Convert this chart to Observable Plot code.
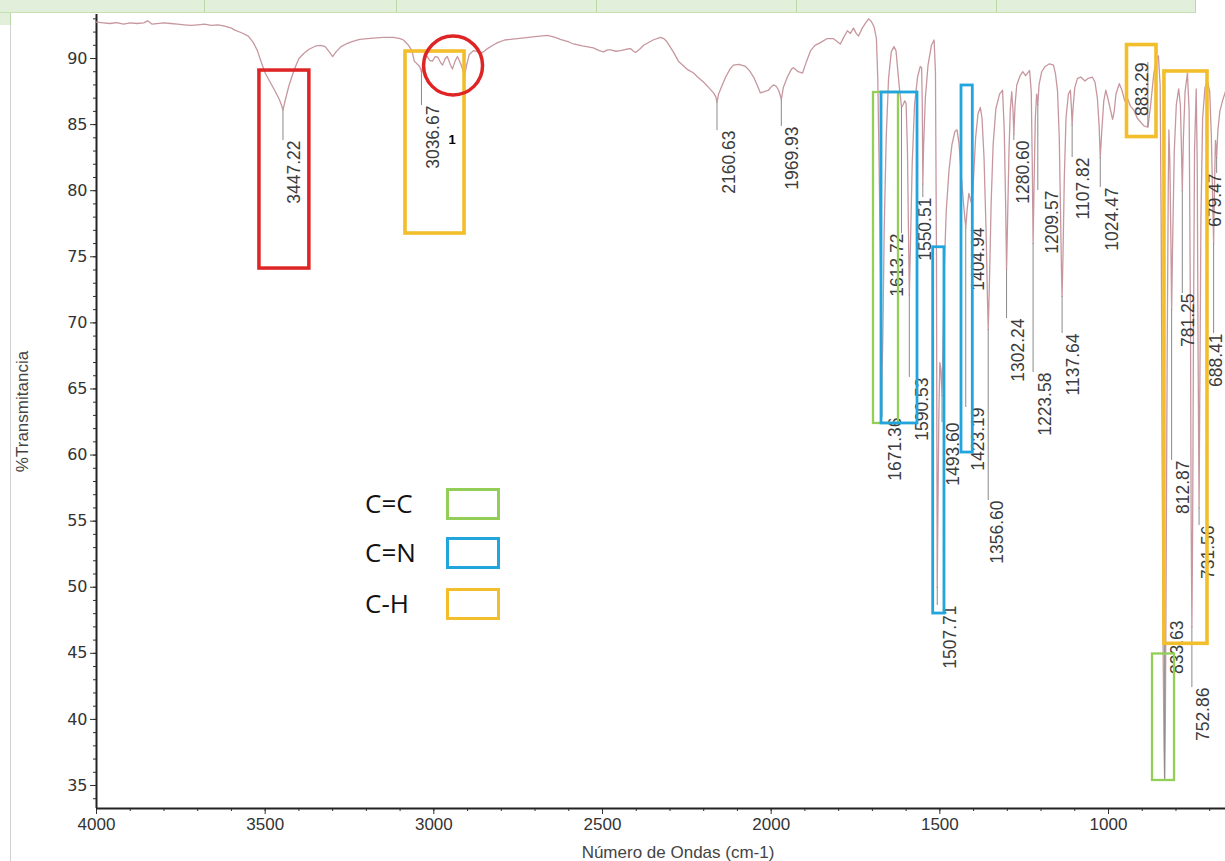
<!DOCTYPE html>
<html><head><meta charset="utf-8">
<script src="https://cdn.jsdelivr.net/npm/d3@7"></script>
<script src="https://cdn.jsdelivr.net/npm/@observablehq/plot@0.6"></script>
<style>
body{margin:0;background:#fff;}
#wrap{position:relative;width:1225px;height:861px;overflow:hidden;background:#fff;}
#wrap svg{position:absolute;left:0;top:0;}
.cell{position:absolute;top:0;height:12px;background:#e2efda;border-right:1px solid #b9d8a6;border-bottom:1px solid #c6e0b4;box-sizing:content-box;}
.leg{position:absolute;font-family:"Open Sans";font-size:26px;color:#111;line-height:1;}
.legbox{position:absolute;width:48px;height:26px;border:3px solid;}
</style></head><body><div id="wrap"></div>
<script>
// Spectrum: [wavenumber cm-1, %T]
const spectrum = [
[4000,92.75],[3980,92.7],[3960,92.65],[3940,92.72],[3920,92.6],[3900,92.7],[3880,92.65],[3860,92.7],[3848,92.85],[3835,92.6],
[3800,92.7],[3780,92.65],[3760,92.6],[3740,92.55],[3720,92.5],[3700,92.55],[3680,92.6],[3660,92.5],[3640,92.55],[3620,92.45],
[3600,92.3],[3590,92.15],[3570,91.95],[3550,91.7],[3535,91.2],[3523,90.6],[3510,89.6],[3500,88.9],[3485,88.2],[3470,87.5],
[3458,86.9],[3452,86.5],[3447.22,86.1],[3440,86.9],[3430,87.9],[3420,88.7],[3410,89.4],[3400,90.0],[3385,90.4],[3370,90.7],
[3350,90.95],[3335,91.0],[3322,90.9],[3310,90.5],[3300,90.15],[3290,90.5],[3275,90.9],[3260,91.1],[3240,91.3],[3220,91.45],
[3180,91.55],[3150,91.6],[3120,91.6],[3100,91.5],[3090,91.4],[3075,91.0],[3065,90.6],[3058,89.8],[3050,89.6],[3042,89.4],
[3036.67,89.0],[3030,89.7],[3022,90.25],[3012,89.85],[3004,89.8],[2996,90.15],[2988,90.1],[2980,89.7],[2974,89.5],[2966,90.0],
[2960,90.15],[2952,89.6],[2945,89.2],[2937,89.8],[2930,90.15],[2922,89.7],[2916,89.3],[2909,88.7],[2902,89.6],[2895,90.3],
[2882,90.6],[2868,90.5],[2856,90.45],[2848,90.6],[2841,90.75],[2825,91.0],[2811,91.2],[2790,91.4],[2752,91.5],[2700,91.65],
[2663,91.75],[2640,91.6],[2625,91.45],[2600,91.25],[2586,91.1],[2560,90.95],[2527,90.8],[2510,90.6],[2497,90.5],[2485,90.65],
[2476,90.65],[2460,90.55],[2447,90.6],[2430,90.7],[2417,90.75],[2408,90.55],[2402,90.45],[2390,90.7],[2378,91.0],[2350,91.4],
[2328,91.6],[2318,91.5],[2310,91.3],[2290,90.5],[2275,89.8],[2250,89.2],[2230,88.9],[2218,88.6],[2200,88.2],[2185,87.8],
[2171,87.4],[2164,87.1],[2160.63,86.7],[2156,87.3],[2148,87.8],[2135,88.6],[2122,89.2],[2112,89.5],[2095,89.55],[2076,89.4],
[2065,89.1],[2052,88.6],[2040,87.9],[2032,87.4],[2020,87.5],[2008,87.6],[2000,87.85],[1993,88.0],[1985,87.9],[1978,87.6],
[1973,87.2],[1969.93,86.9],[1964,87.8],[1952,88.6],[1940,89.2],[1934,89.3],[1920,89.0],[1907,88.9],[1895,89.8],[1883,90.6],
[1870,91.0],[1854,91.2],[1835,91.5],[1815,91.5],[1800,91.2],[1795,91.1],[1785,91.6],[1774,92.1],[1765,91.9],[1756,92.3],
[1748,91.9],[1741,91.7],[1730,92.3],[1720,92.7],[1711,93.0],[1703,92.8],[1695,92.4],[1688,91.5],[1684,88.5],[1680,82],
[1676,74],[1673,68],[1671.36,66.0],[1669,69],[1665,77],[1659,84],[1652,88.5],[1644,90.5],[1636,90.9],[1630,90.6],
[1625,89.2],[1620,87.8],[1616,86.9],[1613.72,86.3],[1609,86.5],[1604,86.8],[1600,86.6],[1596,83],[1593,77],[1590.53,72.1],
[1587,76],[1582,82],[1575,86.5],[1566,88.6],[1558,89.4],[1554,89.3],[1552,86.5],[1550.51,80.5],[1548,83.5],[1543,87],
[1535,89.5],[1525,91.0],[1517,91.4],[1513,89],[1510,75],[1508.5,58],[1507.71,50.0],[1506,55],[1503,63],[1500,67],
[1497,66.5],[1495,65.2],[1493.6,64.5],[1491,68],[1487,74],[1481,78.5],[1473,81.5],[1464,83.5],[1455,84.5],[1449,84.6],
[1443,83.5],[1436,81.0],[1429,78.8],[1423.19,77.2],[1419,78.6],[1414,79.8],[1409,79.3],[1404.94,79.0],[1400,81.0],[1394,84.0],
[1387,85.8],[1380,86.3],[1375,85.5],[1369,82.5],[1363,77],[1359,72],[1356.6,69.5],[1353,73],[1348,79],[1342,83.5],
[1334,86.2],[1323,87.3],[1314,87.6],[1309,84.5],[1305,79],[1302.24,74.0],[1299,78],[1295,83],[1291,86.2],[1287,87.5],
[1283,86.0],[1280.6,84.3],[1277,86.5],[1272,88.0],[1262,88.7],[1254,89.0],[1246,88.7],[1240,88.9],[1234,89.1],[1229,87.5],
[1226,82],[1223.58,76.0],[1221,80],[1217,85.5],[1213,87.3],[1209.57,86.5],[1206,88.0],[1198,89.0],[1188,89.4],[1175,89.6],
[1163,89.5],[1157,88.8],[1151,87.5],[1146,84],[1142,78],[1139.5,74],[1137.64,72.0],[1135,75],[1131,81],[1126,85.5],
[1119,87.3],[1113,87.6],[1110,86.3],[1107.82,85.0],[1105,86.3],[1100,87.8],[1092,88.5],[1082,88.6],[1070,88.3],[1060,88.5],
[1048,88.6],[1040,88.2],[1033,87.0],[1028,85.0],[1024.47,82.5],[1020,84.5],[1014,86.8],[1008,87.6],[1002,87.0],[995,86.2],
[988,85.4],[983,86.0],[978,87.3],[968,88.1],[960,87.6],[952,86.8],[944,87.0],[935,86.4],[925,86.1],[915,85.5],
[905,85.2],[895,84.9],[883.29,84.8],[875,86.5],[866,88.8],[858,90.0],[852,90.2],[847,88.0],[844,78],[841,60],
[838,45],[835.5,38],[833.63,35.5],[831.5,40],[829,52],[826,68],[823,80],[821,84.6],[818,82],[815,76],
[812.87,71.0],[810,76],[805,83],[799,86.5],[792,87.7],[787,86.5],[784,83.5],[781.25,80.0],[778,84],[773,87.5],
[766,88.9],[761,86],[757,70],[755,55],[752.86,47.0],[750.5,55],[748,70],[745,83],[740,87.7],[737,82],
[734.5,68],[731.56,56.0],[729,66],[726,78],[721,85.5],[714,87.8],[707,88.3],[700,87.5],[695,84],[691,79],
[688.41,76.0],[686,80],[683,83.8],[681,83.2],[679.47,82.5],[676,84.5],[670,86],[662,86.8],[653.2,87.5]
];

// Peak labels
const peakLabel = ["3447.22","3036.67","2160.63","1969.93","1671.36","1613.72","1590.53","1550.51","1507.71","1493.60","1423.19","1404.94","1356.60","1302.24","1280.60","1223.58","1209.57","1137.64","1107.82","1024.47","883.29","833.63","812.87","781.25","752.86","731.56","688.41","679.47"];
const peakT     = [86.1,89.0,86.7,86.9,66.0,86.3,72.1,80.5,50.0,64.5,77.2,79.0,69.5,74.0,84.3,76.0,86.5,72.0,85.0,82.5,84.8,35.5,71.0,80.0,47.0,56.0,76.0,82.5];
const labelWn   = [3413,3001,2123.5,1936.8,1631.5,1625.5,1551.4,1542.5,1468.4,1459.5,1385.4,1385.4,1329.1,1266.8,1252,1186.8,1166,1103.7,1074.1,988.1,899.2,795.4,777.6,762.8,718.3,703.4,681.5,683.5];
const labelTopT = [83.8,86.44,84.55,84.86,62.84,76.76,65.87,79.48,48.62,62.46,63.6,77.21,56.56,70.33,83.8,66.24,80.01,69.2,82.51,80.24,89.7,47.48,59.59,72.22,42.41,54.67,69.2,81.3];

// Functional-group annotation boxes
const boxGroup = ["O-H","C-H","C=C","C=N","C=N","C=N","C-H","C-H","C=C"];
const boxWn1   = [3517,3084,1696.7,1672.9,1519.7,1435.8,945.2,834.2,869.6];
const boxWn2   = [3369,2909,1622.6,1566.2,1486.3,1402.3,857.7,706.6,804.4];
const boxT1    = [89.09,90.53,87.43,87.43,75.72,87.96,91.02,89.02,44.95];
const boxT2    = [74.11,76.76,62.39,62.39,48.01,60.19,84.06,45.72,35.38];
const circleMark = [{wn: 2943, T: 89.47}];
const noteMark = [{wn: 2946, T: 83.87, text: "1"}];
const legendGroups = ["C=C","C=N","C-H"];
const xTicks = [4000,3500,3000,2500,2000,1500,1000];
const yTicks = [35,40,45,50,55,60,65,70,75,80,85,90];

const groupColor = {"O-H":"#de2424","C-H":"#f2be2b","C=C":"#93cf57","C=N":"#22a5dc"};
const groupWidth = {"O-H":3.5,"C-H":3.6,"C=C":2.3,"C=N":2.8};

const spec = spectrum.map(([wn,T]) => ({wn, T}));
const peaks = peakLabel.map((s,i) => ({label: s, wn: +s, T: peakT[i], lx: labelWn[i], lt: labelTopT[i]}));
const boxes = boxGroup.map((g,i) => ({g, x1: boxWn1[i], x2: boxWn2[i], y1: boxT1[i], y2: boxT2[i]}));

const plot = Plot.plot({
  width: 1225, height: 861,
  marginTop: 14, marginBottom: 53, marginLeft: 96, marginRight: 0,
  x: {domain: [4000, 653.2]},
  y: {domain: [33.26, 93.33]},
  style: {background: "transparent", overflow: "visible"},
  marks: [
    Plot.axisX({ticks: d3.range(700, 4001, 100), tickSize: 3, tickFormat: () => "", label: null, color: "#333"}),
    Plot.axisX({ticks: xTicks, tickSize: 6, tickPadding: 3, tickFormat: d3.format("d"), fontSize: 17, fontFamily: "Liberation Sans", color: "#333", label: null}),
    Plot.axisY({ticks: d3.range(34, 94, 1), tickSize: 3, tickFormat: () => "", label: null, color: "#333"}),
    Plot.axisY({ticks: yTicks, tickSize: 6, tickPadding: 3, fontSize: 16, fontFamily: "DejaVu Sans", color: "#333", label: null}),
    Plot.ruleX([4000], {stroke: "#222", strokeWidth: 2}),
    Plot.ruleY([33.26], {stroke: "#222", strokeWidth: 2}),
    Plot.text(["%Transmitancia"], {frameAnchor: "left", dx: -74, rotate: -90, textAnchor: "middle", fontSize: 17, fontFamily: "Liberation Sans", fill: "#444"}),
    Plot.text(["Número de Ondas (cm-1)"], {frameAnchor: "bottom", dx: 17, dy: 44, lineAnchor: "middle", textAnchor: "middle", fontSize: 17, fontFamily: "Liberation Sans", fill: "#444"}),
    Plot.line(spec, {x: "wn", y: "T", stroke: "#c7979f", strokeWidth: 1.3}),
    Plot.ruleX(peaks, {x: "wn", y1: "T", y2: "lt", stroke: "#8a8a8a", strokeWidth: 1}),
    Plot.text(peaks, {x: "lx", y: "lt", text: "label", rotate: -90, textAnchor: "end", fontSize: 17.5, fontFamily: "Liberation Sans", fill: "#3c3c3c"}),
    ...["C=C","C=N","C-H","O-H"].map(g => Plot.rect(boxes.filter(b => b.g === g), {x1: "x1", x2: "x2", y1: "y1", y2: "y2", fill: "none", stroke: groupColor[g], strokeWidth: groupWidth[g]})),
    Plot.dot(circleMark, {x: "wn", y: "T", r: 29.5, fill: "none", stroke: groupColor["O-H"], strokeWidth: 3.5}),
    Plot.text(noteMark, {x: "wn", y: "T", text: "text", fontSize: 13, fontWeight: "bold", fontFamily: "Liberation Sans", fill: "#000"})
  ]
});

const wrap = document.getElementById("wrap");
// top table strip
const cellEdges = [0,205,397,597,797,997,1196];
for (let i = 0; i < cellEdges.length - 1; i++) {
  const d = document.createElement("div");
  d.className = "cell";
  d.style.left = cellEdges[i] + "px";
  d.style.width = (cellEdges[i+1] - cellEdges[i] - 1) + "px";
  wrap.appendChild(d);
}
const side = document.createElement("div");
side.style.cssText = "position:absolute;left:0;top:13px;width:10px;height:12px;background:#e2efda;border-right:1px solid #b9d8a6;";
wrap.appendChild(side);
const vline = document.createElement("div");
vline.style.cssText = "position:absolute;left:10px;top:25px;width:1px;height:836px;background:#d0d0d0;";
wrap.appendChild(vline);

wrap.appendChild(plot);

// legend
const legTop = [488, 537, 588];
legendGroups.forEach((g, i) => {
  const t = document.createElement("div");
  t.className = "leg";
  t.textContent = g;
  t.style.left = "365px";
  t.style.top = (legTop[i] + 2) + "px";
  wrap.appendChild(t);
  const b = document.createElement("div");
  b.className = "legbox";
  b.style.left = "446px";
  b.style.top = legTop[i] + "px";
  b.style.borderColor = groupColor[g];
  wrap.appendChild(b);
});
</script></body></html>
